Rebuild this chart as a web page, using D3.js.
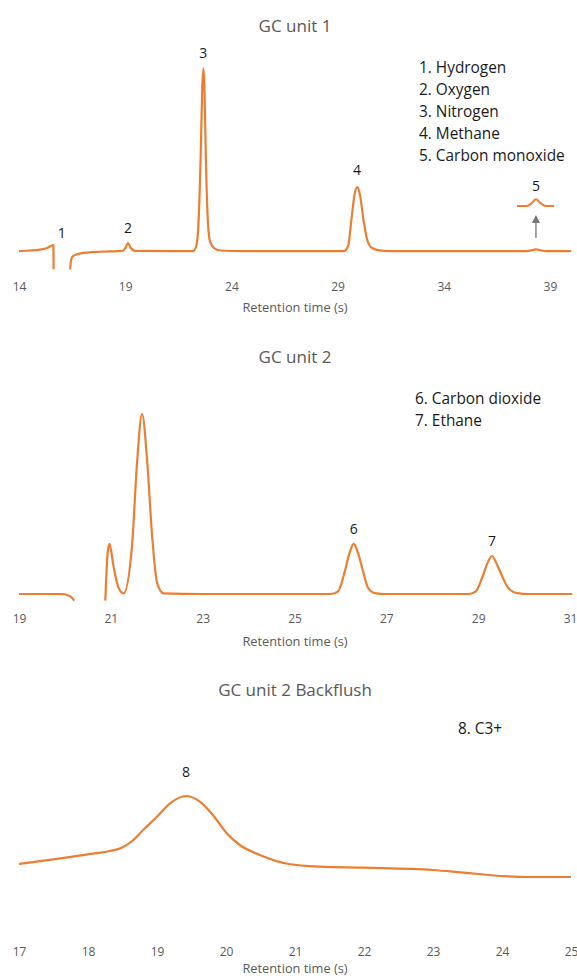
<!DOCTYPE html>
<html>
<head>
<meta charset="utf-8">
<script src="https://cdn.jsdelivr.net/npm/d3@7"></script>
<style>
  body { margin: 0; background: #fff; }
  svg text { font-family: "Open Sans", "Noto Sans", sans-serif; }
</style>
</head>
<body>
<script>
// ---- data: [retention time (s), signal] ----

// GC unit 1 (signal scaled so nitrogen peak = 100)
var gc1SegA = [[14.0, 0], [14.5, 0.3], [15.0, 0.8], [15.3, 1.5], [15.62, 3.3], [15.63, -10]];
var gc1SegB = [[16.41, -10], [16.45, -5], [16.55, -2.7], [16.9, -1.3], [17.8, -0.4], [18.7, -0.1],
  [18.85, 0], [19.0, 1.5], [19.13, 4.4], [19.27, 1.5], [19.45, 0.1], [21.5, 0],
  [22.2, 0], [22.35, 3], [22.45, 15], [22.55, 50], [22.63, 90], [22.68, 100], [22.73, 90],
  [22.8, 50], [22.9, 15], [23.0, 5], [23.2, 1.5], [23.5, 0.3], [24.5, 0],
  [29.3, 0], [29.5, 3], [29.65, 17], [29.8, 31], [29.93, 35], [30.05, 31], [30.22, 17],
  [30.4, 6], [30.6, 1.8], [30.9, 0.5], [31.5, 0], [37.45, 0],
  [37.9, 0], [38.15, 0.4], [38.34, 0.9], [38.55, 0.4], [38.8, 0], [39.2, 0], [40.0, 0]];
var gc1Ticks = [14, 19, 24, 29, 34, 39];
var gc1Labels = [["1", 16.01, 9.9], ["2", 19.13, 12.4], ["3", 22.68, 108.2], ["4", 29.92, 44.3], ["5", 38.34, 35.6]];
var gc1Legend = ["1. Hydrogen", "2. Oxygen", "3. Nitrogen", "4. Methane", "5. Carbon monoxide"];
var gc1Inset = [37.45, 39.2];      // zoomed copy of peak 5
var gc1Arrow = [38.34, 7.1, 19.7]; // time, from, to

// GC unit 2 (largest peak = 100)
var gc2SegA = [[19.0, 0], [19.6, 0], [19.95, -0.1], [20.08, -0.8], [20.15, -2], [20.2, -3.7]];
var gc2SegB = [[20.88, -3.7], [20.93, 22.8], [20.97, 27.8], [21.06, 15.2], [21.17, 3.3], [21.28, 0.4],
  [21.46, 26.3], [21.57, 72.6], [21.68, 100], [21.79, 74.4], [21.9, 31.9], [22.01, 5.9], [22.15, 0.4],
  [23.0, 0], [25.8, 0], [25.95, 1.5], [26.1, 13], [26.2, 23], [26.29, 27.8], [26.38, 23], [26.49, 13],
  [26.6, 3.5], [26.75, 0.5], [27.0, 0], [28.8, 0], [28.95, 1.5], [29.1, 10], [29.2, 17], [29.3, 21.1],
  [29.4, 17], [29.52, 10], [29.65, 3.5], [29.85, 0.5], [30.1, 0], [31.05, 0]];
var gc2Ticks = [19, 21, 23, 25, 27, 29, 31];
var gc2Labels = [["6", 26.29, 36.1], ["7", 29.3, 29.4]];
var gc2Legend = ["6. Carbon dioxide", "7. Ethane"];

// GC unit 2 backflush
var bfSeg = [[17.0, 32], [17.5, 36.7], [18.0, 41.7], [18.3, 44.8], [18.48, 48], [18.65, 55.5], [18.8, 66],
  [19.0, 79.3], [19.19, 92.7], [19.42, 100], [19.62, 94.3], [19.81, 81], [20.01, 62.7], [20.2, 51],
  [20.49, 41], [20.91, 32], [21.37, 29.3], [22.0, 28.3], [23.0, 26], [23.4, 23.7], [24.0, 20],
  [24.36, 19], [25.0, 19]];
var bfTicks = [17, 18, 19, 20, 21, 22, 23, 24, 25];
var bfLabels = [["8", 19.42, 124.3]];
var bfLegend = ["8. C3+"];

var orange = "#ED7D31", grey = "#595959";

var svg = d3.select("body").append("svg").attr("width", 577).attr("height", 978);

// one chromatogram panel
function panel(o) {
  var x = d3.scaleLinear().domain(o.xDomain).range([19, o.xRight]);
  var y = d3.scaleLinear().domain(o.yDomain).range(o.yRange);
  var line = d3.line().x(function(d) { return x(d[0]); }).y(function(d) { return y(d[1]); })
    .curve(d3.curveMonotoneX);

  svg.append("text").attr("x", 295).attr("y", o.titleY).attr("text-anchor", "middle")
    .attr("font-size", 17).attr("fill", grey).text(o.title);

  o.segs.forEach(function(s) {
    svg.append("path").attr("d", line(s)).attr("fill", "none").attr("stroke", orange)
      .attr("stroke-width", 2.2).attr("stroke-linejoin", "round");
  });

  var ax = svg.append("g").attr("transform", "translate(0," + o.tickY + ")")
    .call(d3.axisBottom(x).tickValues(o.ticks).tickSize(0).tickPadding(0).tickFormat(d3.format("d")));
  ax.select(".domain").remove();
  ax.selectAll("text").attr("fill", grey).attr("font-size", 12)
    .style("font-family", '"Open Sans", sans-serif');

  svg.append("text").attr("x", 295).attr("y", o.axisY).attr("text-anchor", "middle")
    .attr("font-size", 12.8).attr("fill", grey).text("Retention time (s)");

  svg.selectAll(null).data(o.labels).enter().append("text")
    .attr("x", function(d) { return x(d[1]); }).attr("y", function(d) { return y(d[2]) + 5; })
    .attr("text-anchor", "middle").attr("font-size", 14).attr("fill", "#1a1a1a")
    .text(function(d) { return d[0]; });

  svg.selectAll(null).data(o.legend).enter().append("text")
    .attr("x", o.legendX).attr("y", function(d, i) { return o.legendY + i * 22; })
    .attr("font-size", 15.4).attr("fill", "#1a1a1a").text(function(d) { return d; });

  return { x: x, y: y };
}

var p1 = panel({
  title: "GC unit 1", titleY: 32, xDomain: [14, 40], xRight: 571.2,
  yDomain: [-10, 100], yRange: [269.3, 68.3], segs: [gc1SegA, gc1SegB],
  ticks: gc1Ticks, tickY: 282.2, axisY: 312, labels: gc1Labels,
  legend: gc1Legend, legendX: 419, legendY: 73
});

// magnified copy of peak 5 above the baseline
var insetY = d3.scaleLinear().domain([0, 0.9]).range([206, 199.3]);
var insetData = gc1SegB.filter(function(d) { return d[0] >= gc1Inset[0] && d[0] <= gc1Inset[1]; });
svg.append("path")
  .attr("d", d3.line().x(function(d) { return p1.x(d[0]); }).y(function(d) { return insetY(d[1]); })
    .curve(d3.curveMonotoneX)(insetData))
  .attr("fill", "none").attr("stroke", orange).attr("stroke-width", 2);

var ax5 = p1.x(gc1Arrow[0]), ay0 = p1.y(gc1Arrow[1]), ay1 = p1.y(gc1Arrow[2]);
svg.append("line").attr("x1", ax5).attr("x2", ax5).attr("y1", ay0).attr("y2", ay1 + 6)
  .attr("stroke", "#767676").attr("stroke-width", 1.3);
svg.append("path").attr("d", "M" + ax5 + "," + ay1 + "L" + (ax5 - 4) + "," + (ay1 + 8) + "L" + (ax5 + 4) + "," + (ay1 + 8) + "Z")
  .attr("fill", "#767676");

panel({
  title: "GC unit 2", titleY: 363, xDomain: [19, 31], xRight: 570,
  yDomain: [-5, 100], yRange: [603, 414], segs: [gc2SegA, gc2SegB],
  ticks: gc2Ticks, tickY: 614.5, axisY: 646, labels: gc2Labels,
  legend: gc2Legend, legendX: 415, legendY: 404
});

panel({
  title: "GC unit 2 Backflush", titleY: 696, xDomain: [17, 25], xRight: 571,
  yDomain: [0, 100], yRange: [896, 796], segs: [bfSeg],
  ticks: bfTicks, tickY: 947.2, axisY: 973, labels: bfLabels,
  legend: bfLegend, legendX: 458, legendY: 734
});
</script>
</body>
</html>
